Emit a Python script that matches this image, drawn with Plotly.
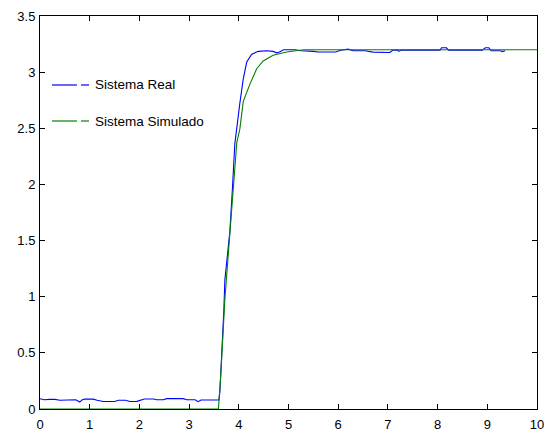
import plotly.graph_objects as go

# ---- data ----
real_x = [0.00, 0.04, 0.08, 0.20, 0.30, 0.40, 0.65, 0.72, 0.80, 0.85, 0.90, 1.07, 1.15, 1.27,
          1.50, 1.58, 1.72, 1.81, 1.95, 2.05, 2.10, 2.28, 2.35, 2.48, 2.55, 2.88, 2.95, 3.12,
          3.18, 3.24, 3.60, 3.62, 3.66, 3.70, 3.72, 3.76, 3.82, 3.87, 3.92, 4.02, 4.09, 4.16,
          4.26, 4.39, 4.56, 4.69, 4.76, 4.82, 4.90, 5.13, 5.25, 5.50, 5.60, 5.95, 6.05, 6.20,
          6.30, 6.54, 6.70, 7.04, 7.10, 7.20, 7.22, 7.27, 7.84, 7.90, 7.98, 8.05, 8.08, 8.18,
          8.22, 8.90, 8.96, 9.03, 9.08, 9.26, 9.30, 9.36]
real_y = [0.092, 0.089, 0.082, 0.086, 0.086, 0.078, 0.077, 0.082, 0.062, 0.082, 0.089, 0.088,
          0.078, 0.067, 0.067, 0.078, 0.078, 0.067, 0.068, 0.082, 0.089, 0.089, 0.082, 0.082,
          0.092, 0.092, 0.083, 0.083, 0.065, 0.080, 0.080, 0.157, 0.470, 0.890, 1.150, 1.350,
          1.580, 1.950, 2.360, 2.720, 2.940, 3.090, 3.160, 3.185, 3.190, 3.185, 3.172, 3.180,
          3.200, 3.200, 3.190, 3.185, 3.180, 3.180, 3.195, 3.205, 3.190, 3.190, 3.178, 3.175,
          3.196, 3.196, 3.185, 3.196, 3.196, 3.200, 3.196, 3.196, 3.217, 3.217, 3.196, 3.196,
          3.217, 3.217, 3.190, 3.190, 3.183, 3.190]

sim_x = [0.00, 3.59, 3.64, 3.68, 3.72, 3.77, 3.82, 3.87, 3.92, 3.96, 4.02, 4.09, 4.23, 4.36,
         4.49, 4.69, 4.96, 5.16, 5.30, 10.00]
sim_y = [0.000, 0.000, 0.320, 0.680, 0.980, 1.270, 1.570, 1.870, 2.150, 2.375, 2.490, 2.740,
         2.900, 3.030, 3.100, 3.150, 3.180, 3.190, 3.200, 3.200]

x_ticks = [0, 1, 2, 3, 4, 5, 6, 7, 8, 9, 10]
y_ticks = [0, 0.5, 1, 1.5, 2, 2.5, 3, 3.5]
names = ["Sistema Real", "Sistema Simulado"]
colors = ["#0000ff", "#008000"]

W, H = 544, 431
L, R, T, B = 40, 7, 16, 22
pw, ph = W - L - R, H - T - B

fig = go.Figure()
fig.add_trace(go.Scatter(x=real_x, y=real_y, mode="lines", name=names[0],
                         line=dict(color=colors[0], width=1.1), showlegend=False))
fig.add_trace(go.Scatter(x=sim_x, y=sim_y, mode="lines", name=names[1],
                         line=dict(color=colors[1], width=1.1), showlegend=False))

axis_common = dict(showgrid=False, zeroline=False, showline=True, mirror="ticks",
                   linecolor="#000000", linewidth=1, ticks="inside", ticklen=5,
                   tickcolor="#000000", tickwidth=1, automargin=False,
                   ticklabeloverflow="allow",
                   tickfont=dict(family="Liberation Sans, Arial", size=13, color="#000000"))

fig.update_xaxes(range=[0, 10], tickvals=x_ticks, ticktext=[str(v) for v in x_ticks],
                 ticklabelstandoff=3, **axis_common)
fig.update_yaxes(range=[0, 3.5], tickvals=y_ticks, ticktext=[f"{v:g}" for v in y_ticks],
                 ticklabelstandoff=1, **axis_common)

# manual legend (MATLAB style, no box)
def px_x(p):
    return (p - L) / pw

def px_y(p):
    return 1 - (p - T) / ph

shapes = []
annotations = []
for i, (nm, col, yy) in enumerate(zip(names, colors, [85, 121])):
    for a, b in [(52, 77), (81, 89)]:
        shapes.append(dict(type="line", xref="paper", yref="paper",
                           x0=px_x(a), x1=px_x(b), y0=px_y(yy), y1=px_y(yy),
                           line=dict(color=col, width=1.2)))
    annotations.append(dict(xref="paper", yref="paper", x=px_x(93), y=px_y(yy),
                            xanchor="left", yanchor="middle", text=nm, showarrow=False,
                            font=dict(family="Liberation Sans, Arial", size=13.5, color="#000000")))

fig.update_layout(width=W, height=H, margin=dict(l=L, r=R, t=T, b=B),
                  paper_bgcolor="white", plot_bgcolor="white",
                  shapes=shapes, annotations=annotations, showlegend=False)

fig.write_html("out.html")
